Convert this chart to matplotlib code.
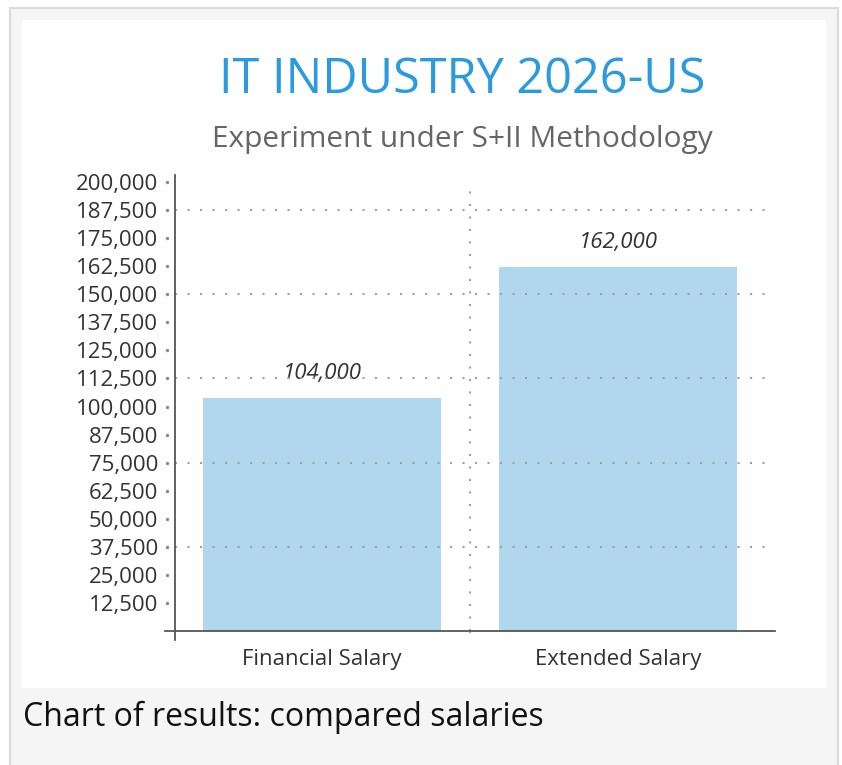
import matplotlib
matplotlib.use("Agg")
import matplotlib.pyplot as plt
from matplotlib.patches import Rectangle
from matplotlib.ticker import FixedLocator, FuncFormatter
import matplotlib.transforms as mtransforms

categories = ["Financial Salary", "Extended Salary"]
values = [104000, 162000]
value_labels = ["104,000", "162,000"]
y_ticks = [12500 * i for i in range(1, 17)]
grid_ticks = [37500, 75000, 112500, 150000, 187500]
title = "IT INDUSTRY 2026-US"
subtitle = "Experiment under S+II Methodology"
caption = "Chart of results: compared salaries"

W, H = 842, 765
fig = plt.figure(figsize=(W / 100, H / 100), dpi=100)
fig.patch.set_facecolor("white")
plt.rcParams['font.family'] = ['Open Sans', 'DejaVu Sans']

def px(x, y, w, h):
    return (x / W, 1 - (y + h) / H, w / W, h / H)

# outer grey panel with border
x0, y0, w0, h0 = px(10, 8, 828, 760)
fig.patches.append(Rectangle((x0, y0), w0, h0, transform=fig.transFigure,
                             facecolor="#f5f5f5", edgecolor="#dcdcdc", lw=1.5, zorder=-2))
x1, y1, w1, h1 = px(22, 20, 804, 668)
fig.patches.append(Rectangle((x1, y1), w1, h1, transform=fig.transFigure,
                             facecolor="white", edgecolor="none", zorder=-1))

ax = fig.add_axes(px(175, 182, 600, 449))
ax.set_facecolor("none")
ax.set_xlim(-0.497, 1.53)
ax.set_ylim(0, 200000)

bar_color = "#b1d7ef"
ax.bar(range(len(categories)), values, width=0.805, color=bar_color, zorder=2)

for i, (v, lab) in enumerate(zip(values, value_labels)):
    ax.annotate(lab, (i, v), xytext=(0, 10), textcoords="offset points",
                ha="center", va="bottom", fontsize=16, style="italic", color="#333333")

# dotted grid
dot = (0, (1, 5))
for g in grid_ticks:
    ax.plot([-0.497, 1.53], [g, g], ls=dot, color="#a0a0a0", lw=1.5, zorder=3)
ax.plot([0.5, 0.5], [0, 200000], ls=dot, color="#a0a0a0", lw=1.5, zorder=3)
trans = mtransforms.blended_transform_factory(ax.transData, ax.transAxes)
ax.plot([0.5, 0.5], [0, -0.02], ls=dot, color="#a0a0a0", lw=1.5, zorder=3,
        transform=trans, clip_on=False)

for s in ax.spines.values():
    s.set_visible(False)

# axes lines
ax.plot([0, 0], [1.016, -0.02], transform=ax.transAxes, color="#555555", lw=1.3, clip_on=False, zorder=4)
ax.plot([-0.017, 1.0], [0, 0], transform=ax.transAxes, color="#555555", lw=1.3, clip_on=False, zorder=4)

# y tick dots
ytrans = mtransforms.blended_transform_factory(ax.transAxes, ax.transData)
ax.scatter([-0.013] * len(y_ticks), y_ticks, s=2, color="#888888", transform=ytrans, clip_on=False)

ax.yaxis.set_major_locator(FixedLocator(y_ticks))
ax.yaxis.set_major_formatter(FuncFormatter(lambda v, p: f"{int(v):,}"))
ax.tick_params(axis="y", length=0, pad=12, labelsize=16, labelcolor="#333333")
ax.set_xticks(range(len(categories)))
ax.set_xticklabels(categories)
ax.tick_params(axis="x", length=0, pad=13, labelsize=16, labelcolor="#333333")

fig.text(462 / W, 1 - 80 / H, title, ha="center", va="center", fontsize=35, color="#2b9be0")
fig.text(462 / W, 1 - 139 / H, subtitle, ha="center", va="center", fontsize=21.5, color="#666666")
fig.text(23 / W, 1 - 717 / H, caption, ha="left", va="center", fontsize=23, color="#111111")

fig.savefig("out.png", dpi=100)
